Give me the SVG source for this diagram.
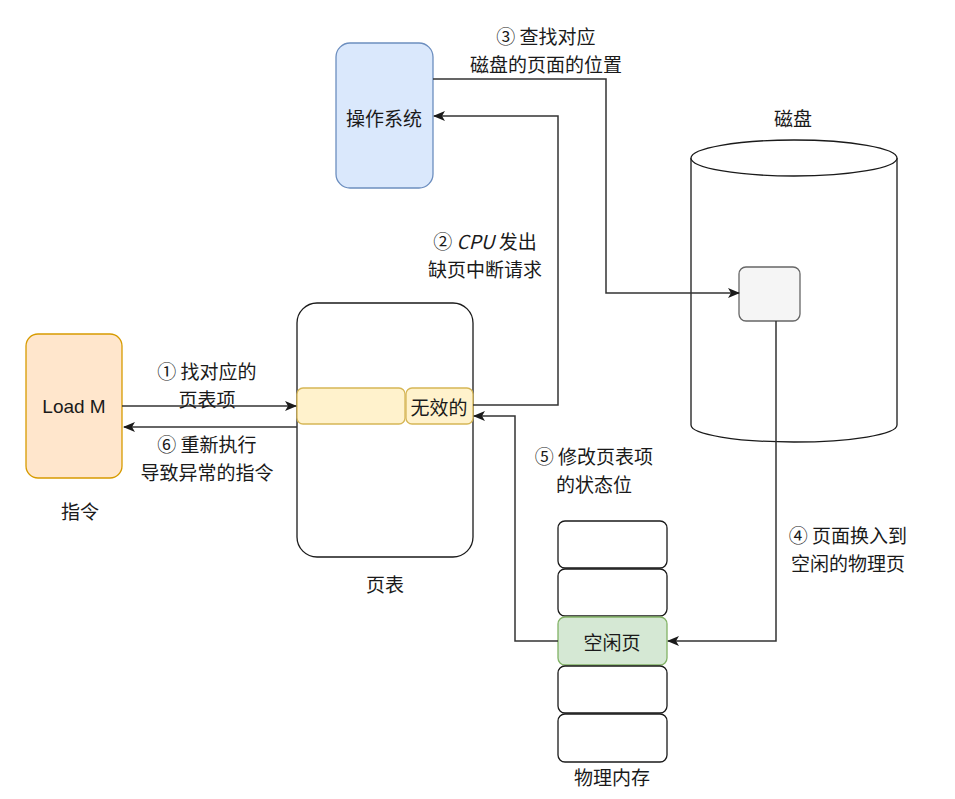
<svg xmlns="http://www.w3.org/2000/svg" width="955" height="799" viewBox="0 0 955 799">
<defs>
<marker id="arr" viewBox="0 0 12 10" refX="11" refY="5" markerWidth="12" markerHeight="10" markerUnits="userSpaceOnUse" orient="auto">
<path d="M0,0 L12,5 L0,10 L3,5 Z" fill="#1a1a1a"/>
</marker>
</defs>
<style>
text{font-family:"Noto Sans CJK SC","Noto Sans",sans-serif;font-size:19px;fill:#1a1a1a;text-anchor:middle;dominant-baseline:central}
.latin{font-family:"Liberation Sans",sans-serif}
.edge{fill:none;stroke:#333333;stroke-width:1.5;marker-end:url(#arr)}
.plain{fill:#ffffff;stroke:#1a1a1a;stroke-width:1.3}
.yel{fill:#fff2cc;stroke:#d6b656;stroke-width:1.3}
</style>
<rect width="955" height="799" fill="#ffffff"/>

<g id="load">
<rect x="26" y="334" width="96" height="144" rx="12" fill="#ffe6cc" stroke="#d79b00" stroke-width="1.3"/>
<text x="74" y="406" class="latin">Load M</text>
</g>
<g id="load-label"><text x="80" y="510">指令</text></g>

<g id="pagetable">
<rect x="297" y="303" width="176" height="254" rx="20" class="plain"/>
<rect x="297" y="388" width="108" height="36" rx="6" class="yel"/>
<rect x="406" y="388" width="67" height="36" rx="6" class="yel"/>
<text x="439" y="406">无效的</text>
<text x="385" y="583">页表</text>
</g>

<g id="os">
<rect x="336" y="43" width="97" height="145" rx="14" fill="#dae8fc" stroke="#6c8ebf" stroke-width="1.3"/>
<text x="384" y="117">操作系统</text>
</g>

<g id="disk">
<path d="M691,158 L691,425 A103,17 0 0 0 897,425 L897,158" fill="#ffffff" stroke="#1a1a1a" stroke-width="1.3"/>
<ellipse cx="794" cy="158" rx="103" ry="18" fill="#ffffff" stroke="#1a1a1a" stroke-width="1.3"/>
<text x="793" y="117">磁盘</text>
<rect x="739" y="267" width="61" height="54" rx="7" fill="#f5f5f5" stroke="#666666" stroke-width="1.3"/>
</g>

<g id="memory">
<rect x="558" y="521" width="109" height="47" rx="7" class="plain"/>
<rect x="558" y="569" width="109" height="47" rx="7" class="plain"/>
<rect x="558" y="617" width="109" height="48" rx="7" fill="#d5e8d4" stroke="#82b366" stroke-width="1.3"/>
<text x="612" y="641">空闲页</text>
<rect x="558" y="666" width="109" height="47" rx="7" class="plain"/>
<rect x="558" y="714" width="109" height="48" rx="7" class="plain"/>
<text x="612" y="776">物理内存</text>
</g>

<g id="connectors">
<path class="edge" d="M122,406 L296,406"/>
<path class="edge" d="M297,427 L124,427"/>
<path class="edge" d="M473,405 L558,405 L558,116 L434,116"/>
<path class="edge" d="M433,79 L606,79 L606,293 L739,293"/>
<path class="edge" d="M776,321 L776,641 L668,641"/>
<path class="edge" d="M558,641 L515,641 L515,416 L474,416"/>
</g>

<g id="labels">
<text x="207" y="370">① 找对应的<tspan x="207" dy="28">页表项</tspan></text>
<text x="207" y="443">⑥ 重新执行<tspan x="207" dy="28">导致异常的指令</tspan></text>
<text x="485" y="240">② <tspan font-style="italic">CPU</tspan> 发出<tspan x="485" dy="28">缺页中断请求</tspan></text>
<text x="546" y="35">③ 查找对应<tspan x="546" dy="28">磁盘的页面的位置</tspan></text>
<text x="848" y="534">④ 页面换入到<tspan x="848" dy="28">空闲的物理页</tspan></text>
<text x="594" y="455">⑤ 修改页表项<tspan x="594" dy="28">的状态位</tspan></text>
</g>
</svg>
